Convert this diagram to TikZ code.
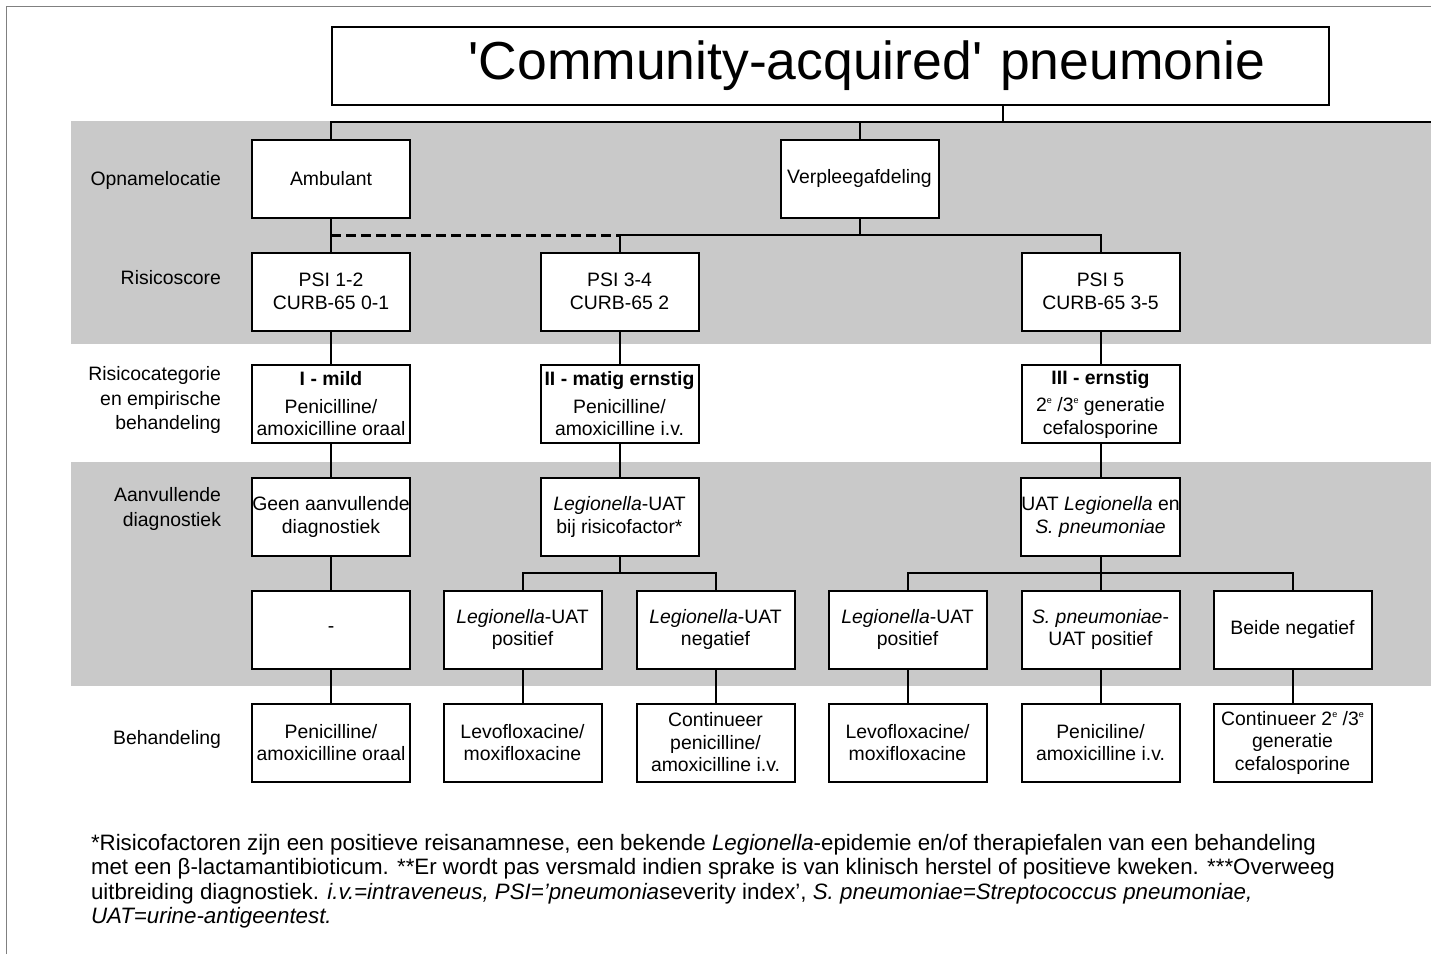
\documentclass[tikz,border=0pt]{standalone}
\usepackage{fontspec}
\setmainfont{Liberation Sans}
\usetikzlibrary{calc}
\definecolor{bandgray}{RGB}{201,201,201}
\definecolor{framegray}{RGB}{128,128,128}
\newcommand{\sgen}{\raisebox{0.75ex}{\fontsize{9}{9}\selectfont e}}

\begin{document}
\begin{tikzpicture}[x=1pt,y=-1pt,line width=2pt,
  box node/.style={draw,fill=white,minimum width=158pt,minimum height=78pt,inner xsep=0pt,align=center,font=\fontsize{19.4}{22.5}\selectfont},
  row label/.style={anchor=east,align=right,inner sep=0pt,font=\fontsize{19.4}{24.5}\selectfont},
  dashed link/.style={dash pattern=on 10pt off 5pt,line width=3pt}]

\useasboundingbox (0,0) rectangle (1431,954);
\draw[framegray,line width=1pt] (6,954) -- (6,6) -- (1431,6);
\fill[bandgray] (71,121) rectangle (1431,344);
\fill[bandgray] (71,462) rectangle (1431,686);

% title
\node[draw,minimum width=997pt,minimum height=78pt,text width=869pt,align=right,inner xsep=0pt,
  font=\fontsize{53.5}{60}\selectfont](T) at (830.5,66) {\textquotesingle Community-acquired\textquotesingle{} pneumonie};

% row labels
\node[row label](lOpname) at (222,180) {Opnamelocatie};
\node[row label](lRisico) at (222,278) {Risicoscore};
\node[row label](lCat) at (222,400) {Risicocategorie\\en empirische\\behandeling};
\node[row label](lDiag) at (222,509) {Aanvullende\\diagnostiek};
\node[row label](lBeh) at (222,739) {Behandeling};

% boxes
\node[box node](amb) at (331,178.5) {Ambulant};
\node[box node](verpl) at (859.5,178.5) {Verpleegafdeling};

\node[box node](psiA) at (331,291.5) {PSI 1-2\\CURB-65 0-1};
\node[box node](psiB) at (619.5,291.5) {PSI 3-4\\CURB-65 2};
\node[box node](psiC) at (1100.5,291.5) {PSI 5\\CURB-65 3-5};

\node[box node](catA) at (331,404) {\textbf{I - mild}\\[5pt]Penicilline/\\amoxicilline oraal};
\node[box node](catB) at (619.5,404) {\textbf{II - matig ernstig}\\[5pt]Penicilline/\\amoxicilline i.v.};
\node[box node](catC) at (1100.5,404) {\textbf{III - ernstig}\\[5pt]2\sgen{} /3\sgen{} generatie\\cefalosporine};

\node[box node](diagA) at (331,517) {Geen aanvullende\\diagnostiek};
\node[box node](diagB) at (619.5,517) {\textit{Legionella}-UAT\\bij risicofactor*};
\node[box node](diagC) at (1100.5,517) {UAT \textit{Legionella} en\\\textit{S. pneumoniae}};

\node[box node](resA) at (331,629.5) {-};
\node[box node](resB) at (522.5,629.5) {\textit{Legionella}-UAT\\positief};
\node[box node](resC) at (715.5,629.5) {\textit{Legionella}-UAT\\negatief};
\node[box node](resD) at (907.5,629.5) {\textit{Legionella}-UAT\\positief};
\node[box node](resE) at (1100.5,629.5) {\textit{S. pneumoniae}-\\UAT positief};
\node[box node](resF) at (1292.5,629.5) {Beide negatief};

\node[box node](behA) at (331,742.5) {Penicilline/\\amoxicilline oraal};
\node[box node](behB) at (522.5,742.5) {Levofloxacine/\\moxifloxacine};
\node[box node](behC) at (715.5,742.5) {Continueer\\penicilline/\\amoxicilline i.v.};
\node[box node](behD) at (907.5,742.5) {Levofloxacine/\\moxifloxacine};
\node[box node](behE) at (1100.5,742.5) {Peniciline/\\amoxicilline i.v.};
\node[box node](behF) at (1292.5,742.5) {Continueer 2\sgen{} /3\sgen\\generatie\\cefalosporine};

% footnote
\node[anchor=north west,inner sep=0pt,align=left,font=\fontsize{22.3}{24.5}\selectfont](note) at (90,833)
  {*Risicofactoren zijn een positieve reisanamnese, een bekende \textit{Legionella}-epidemie en/of therapiefalen van een behandeling\\
   met een β-lactamantibioticum. **Er wordt pas versmald indien sprake is van klinisch herstel of positieve kweken. ***Overweeg\\
   uitbreiding diagnostiek. \textit{i.v.=intraveneus, PSI=’pneumonia}severity index’, \textit{S. pneumoniae=Streptococcus pneumoniae,}\\
   \textit{UAT=urine-antigeentest.}};

% connectors
\coordinate (bus1) at (1003,122);
\coordinate (bus1end) at (1431,122);
\draw (T.south -| bus1) -- (bus1);
\draw (amb.north) |- (bus1end);
\draw (verpl.north) -- (verpl.north |- bus1);

\coordinate (bus2) at (619.5,235);
\draw[dashed link] (amb.south |- bus2) -- (bus2);
\draw (psiB.north) -- (bus2) -| (psiC.north);
\draw (verpl.south) -- (verpl.south |- bus2);

\path
(amb) edge (psiA)
(psiA) edge (catA)
(psiB) edge (catB)
(psiC) edge (catC)
(catA) edge (diagA)
(catB) edge (diagB)
(catC) edge (diagC)
(diagA) edge (resA);

\draw (diagB.south) -- ++(0,16) coordinate (bus4B);
\draw (resB.north) |- (bus4B) -| (resC.north);
\draw (diagC.south) -- ++(0,16) coordinate (bus4C);
\draw (resD.north) |- (bus4C) -| (resF.north);
\draw (bus4C) -- (resE.north);

\path
(resA) edge (behA)
(resB) edge (behB)
(resC) edge (behC)
(resD) edge (behD)
(resE) edge (behE)
(resF) edge (behF);

\end{tikzpicture}
\end{document}
